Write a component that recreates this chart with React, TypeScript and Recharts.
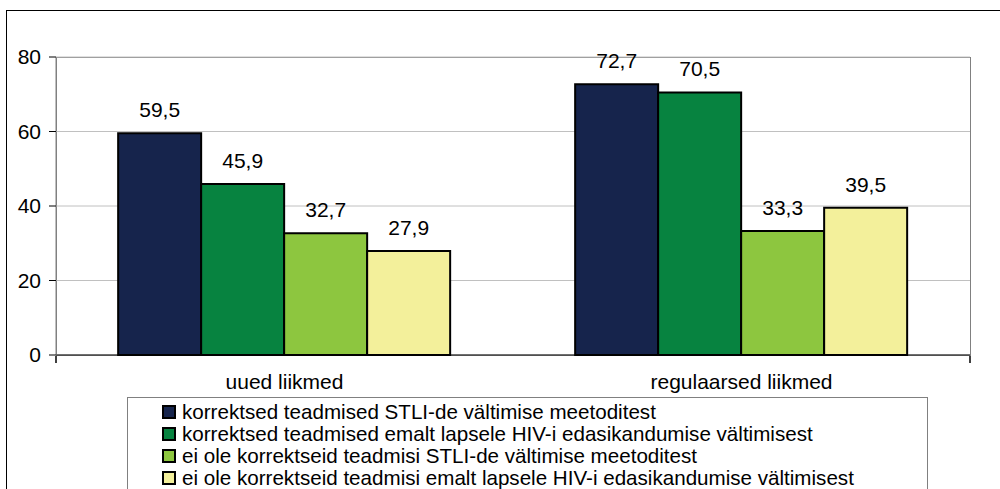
import { BarChart, Bar, XAxis, YAxis, CartesianGrid, LabelList } from "recharts";

const categories = ["uued liikmed", "regulaarsed liikmed"];
const seriesNames = [
  "korrektsed teadmised STLI-de vältimise meetoditest",
  "korrektsed teadmised emalt lapsele HIV-i edasikandumise vältimisest",
  "ei ole korrektseid teadmisi STLI-de vältimise meetoditest",
  "ei ole korrektseid teadmisi emalt lapsele HIV-i edasikandumise vältimisest",
];
const seriesColors = ["#16244c", "#078340", "#8dc63f", "#f3f09b"];
const s1 = [59.5, 72.7];
const s2 = [45.9, 70.5];
const s3 = [32.7, 33.3];
const s4 = [27.9, 39.5];
const yTicks = [0, 20, 40, 60, 80];
const boundaryTicks = [0, 1, 2];

const seriesValues = [s1, s2, s3, s4];
const data = categories.map((name, i) => ({
  name,
  s1: s1[i],
  s2: s2[i],
  s3: s3[i],
  s4: s4[i],
}));

const font = "'Liberation Sans', Arial, sans-serif";
const fs = 21;
const fmt = (v: number) => String(v).replace(".", ",");

export default function App() {
  return (
    <div style={{ position: "absolute", left: 0, top: 0, width: 1000, height: 489, overflow: "hidden", background: "#fff", fontFamily: font }}>
      <div style={{ position: "absolute", left: 6, top: 10, width: 1100, height: 600, border: "1px solid #000" }} />
      <div style={{ position: "absolute", left: 56, top: 57, width: 913, height: 297, border: "1px solid #808080" }} />
      <div style={{ position: "absolute", left: 0, top: 0 }}>
        <BarChart
          width={1000}
          height={489}
          data={data}
          margin={{ top: 57, right: 30, left: 6, bottom: 132 }}
          barCategoryGap="13.6%"
          barGap={0}
        >
          <CartesianGrid vertical={false} stroke="#c0c0c0" />
          <XAxis
            dataKey="name"
            height={1}
            axisLine={{ stroke: "#000" }}
            tickLine={false}
            tick={{ fill: "#000", fontSize: fs, fontFamily: font }}
            tickMargin={13}
          />
          <XAxis
            xAxisId="b"
            type="number"
            domain={[0, 2]}
            ticks={boundaryTicks}
            allowDataOverflow
            height={1}
            axisLine={false}
            tickLine={{ stroke: "#000", strokeWidth: 1.5 }}
            tickSize={7}
            tickFormatter={() => ""}
          />
          <YAxis
            width={50}
            domain={[0, 80]}
            ticks={yTicks}
            axisLine={{ stroke: "#808080" }}
            tickLine={{ stroke: "#000" }}
            tickSize={7}
            tickMargin={8}
            tick={{ fill: "#000", fontSize: fs, fontFamily: font }}
          />
          {seriesValues.map((_, i) => (
            <Bar
              key={i}
              dataKey={`s${i + 1}`}
              name={seriesNames[i]}
              fill={seriesColors[i]}
              stroke="#000"
              strokeWidth={2}
              isAnimationActive={false}
            >
              <LabelList
                dataKey={`s${i + 1}`}
                position="top"
                offset={16}
                formatter={(v: number) => fmt(v)}
                style={{ fill: "#000", fontSize: fs, fontFamily: font }}
              />
            </Bar>
          ))}
        </BarChart>
      </div>
      <div
        style={{
          position: "absolute",
          left: 127,
          top: 397,
          width: 799,
          height: 120,
          border: "1px solid #808080",
          background: "#fff",
        }}
      >
        {seriesNames.map((n, i) => (
          <div key={n} style={{ position: "absolute", left: 34, top: 3 + i * 22, height: 22, display: "flex", alignItems: "center", fontSize: 20.6, lineHeight: "22px", color: "#000", whiteSpace: "nowrap" }}>
            <span style={{ display: "inline-block", width: 10, height: 10, border: "2px solid #000", background: seriesColors[i], marginRight: 6 }} />
            {n}
          </div>
        ))}
      </div>
    </div>
  );
}
